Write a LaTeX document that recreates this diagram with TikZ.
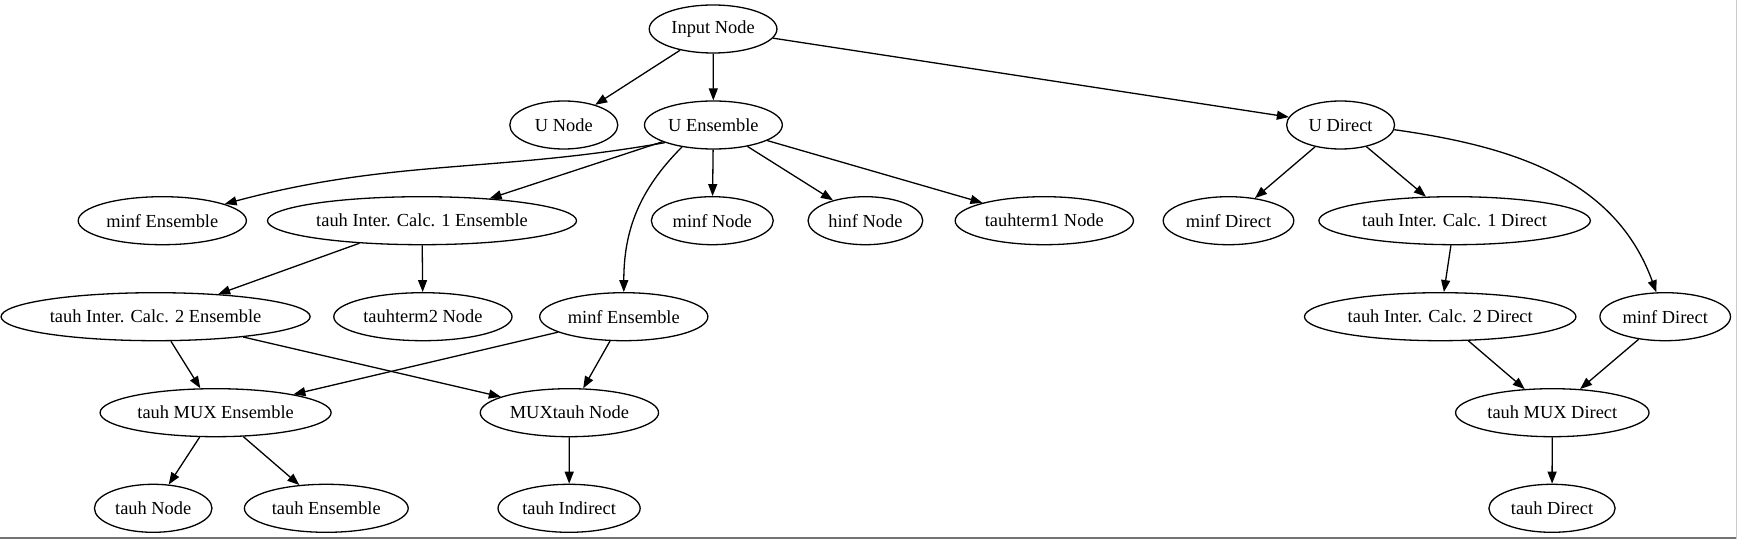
\documentclass[tikz,border=0pt]{standalone}
\usepackage{fontspec}
\setmainfont{Liberation Serif}
\usetikzlibrary{arrows.meta, shapes.geometric}
\definecolor{rimdark}{gray}{0.45}
\definecolor{rimlight}{gray}{0.8}

\begin{document}
\begin{tikzpicture}[x=1pt, y=1pt,
    >={Triangle[length=12pt,width=9pt]},
    vert/.style={ellipse, draw, line width=1.3pt, inner xsep=3.5pt, inner ysep=0pt,
        minimum width=108pt, minimum height=48pt,
        font=\fontsize{18.4}{20}\selectfont}]

    \useasboundingbox (0,0) rectangle (1738,539);

    % rank 1 and 2
    \node[vert] (inputnode) at (713.1,510)   {Input Node};
    \node[vert] (unode)     at (563.8,414)   {U Node};
    \node[vert] (uens)      at (713.4,414)   {U Ensemble};
    \node[vert] (udir)      at (1340.6,414)  {U Direct};

    % rank 3
    \node[vert] (minfensa)  at (162.3,318.3)  {minf Ensemble};
    \node[vert] (ic1ens)    at (422,318.3)    {tauh Inter. Calc. 1 Ensemble};
    \node[vert] (minfnode)  at (712.3,318.3)  {minf Node};
    \node[vert] (hinfnode)  at (865.4,318.3)  {hinf Node};
    \node[vert] (term1node) at (1044.3,318.3) {tauhterm1 Node};
    \node[vert] (minfdira)  at (1228.5,318.3) {minf Direct};
    \node[vert] (ic1dir)    at (1454.6,318.3) {tauh Inter. Calc. 1 Direct};

    % rank 4
    \node[vert] (ic2ens)    at (155.6,222.3)  {tauh Inter. Calc. 2 Ensemble};
    \node[vert] (term2node) at (422.9,222.3)  {tauhterm2 Node};
    \node[vert] (minfensb)  at (623.8,222.3)  {minf Ensemble};
    \node[vert] (ic2dir)    at (1440.2,222.3) {tauh Inter. Calc. 2 Direct};
    \node[vert] (minfdirb)  at (1665.2,222.3) {minf Direct};

    % rank 5 and 6
    \node[vert] (muxens)    at (215.6,126.3)  {tauh MUX Ensemble};
    \node[vert] (muxtauh)   at (569.4,126.3)  {MUXtauh Node};
    \node[vert] (muxdir)    at (1552.3,126.3) {tauh MUX Direct};
    \node[vert] (tauhnode)  at (153.2,30.7)   {tauh Node};
    \node[vert] (tauhens)   at (326.3,30.7)   {tauh Ensemble};
    \node[vert] (tauhind)   at (569.1,30.7)   {tauh Indirect};
    \node[vert] (tauhdir)   at (1552,30.7)    {tauh Direct};

    \path[->, line width=1.3pt]
    (inputnode) edge (unode)
    (inputnode) edge (uens)
    (inputnode) edge (udir)
    (uens.200)  edge [out=190, in=15] (minfensa)
    (uens)      edge (ic1ens)
    (uens.215)  edge [out=225, in=90] (minfensb)
    (uens)      edge (minfnode)
    (uens)      edge (hinfnode)
    (uens)      edge (term1node)
    (udir)      edge (minfdira)
    (udir)      edge (ic1dir)
    (udir.-5)   edge [out=-8, in=110] (minfdirb)
    (ic1ens)    edge (ic2ens)
    (ic1ens)    edge (term2node)
    (ic1dir)    edge (ic2dir)
    (ic2ens)    edge (muxens)
    (ic2ens)    edge (muxtauh)
    (minfensb)  edge (muxens)
    (minfensb)  edge (muxtauh)
    (ic2dir)    edge (muxdir)
    (minfdirb)  edge (muxdir)
    (muxens)    edge (tauhnode)
    (muxens)    edge (tauhens)
    (muxtauh)   edge (tauhind)
    (muxdir)    edge (tauhdir)
    ;

    % frame edges of the capture
    \draw[rimdark, line width=2pt] (0,1) -- (1736.7,1);
    \draw[rimlight, line width=1pt] (1736.7,0) -- (1736.7,539);
\end{tikzpicture}
\end{document}
